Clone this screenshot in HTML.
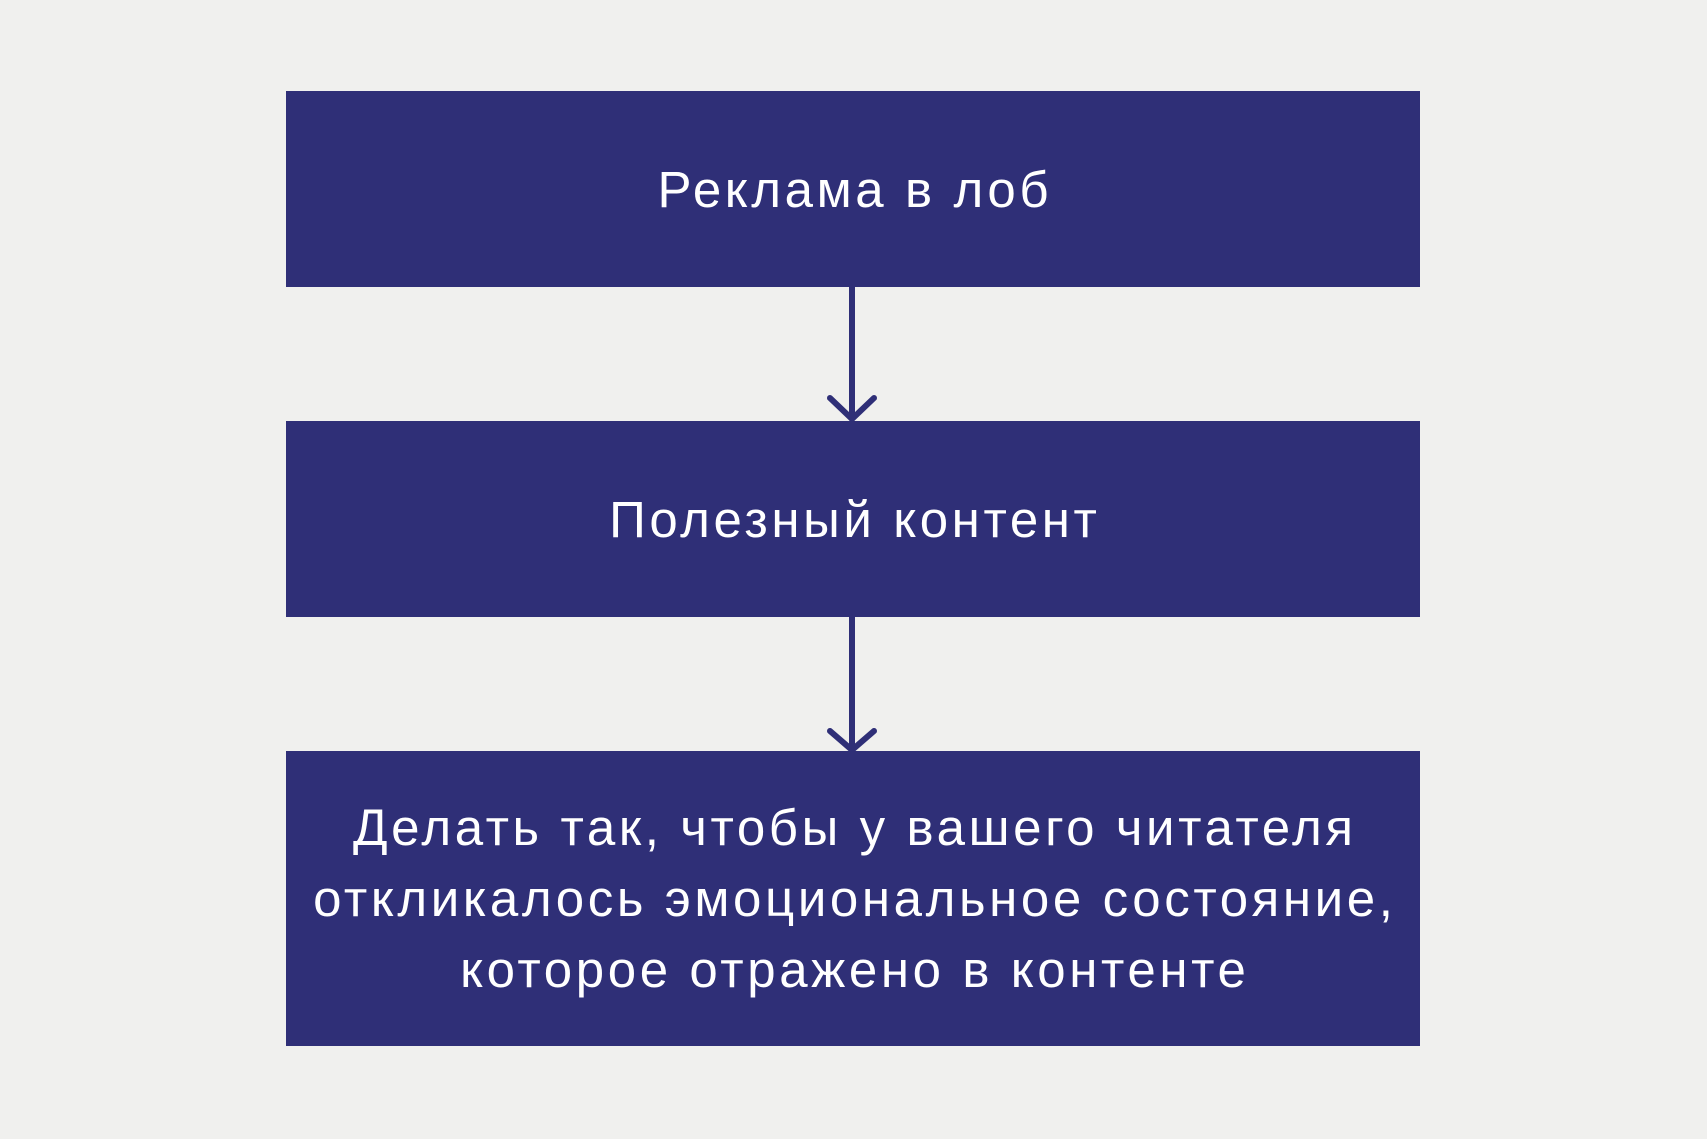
<!DOCTYPE html>
<html><head><meta charset="utf-8"><style>
html,body{margin:0;padding:0;}
body{width:1707px;height:1139px;background:#f0f0ee;position:relative;overflow:hidden;font-family:"Liberation Sans","DejaVu Sans",sans-serif;}
.b{position:absolute;left:286px;width:1134px;background:#2f2f77;color:#fff;display:flex;align-items:center;justify-content:center;text-align:center;font-size:51px;line-height:71px;letter-spacing:3.6px;}
.b span{margin-right:-3.6px;}
svg{position:absolute;left:0;top:0;}
</style></head><body>
<div class="b" style="top:91px;height:196px;"><span>Реклама в лоб</span></div>
<div class="b" style="top:421px;height:196px;"><span>Полезный контент</span></div>
<div class="b" style="top:751px;height:295px;"><span>Делать так, чтобы у вашего читателя<br>откликалось эмоциональное состояние,<br>которое отражено в контенте</span></div>
<svg width="1707" height="1139">
<g stroke="#2f2f77" stroke-width="6" fill="none" stroke-linecap="round">
<line x1="852" y1="287" x2="852" y2="419"/>
<polyline points="830,398 852,419 874,398"/>
<line x1="852" y1="617" x2="852" y2="749"/>
<polyline points="830,731 852,750 874,731"/>
</g></svg>
</body></html>
